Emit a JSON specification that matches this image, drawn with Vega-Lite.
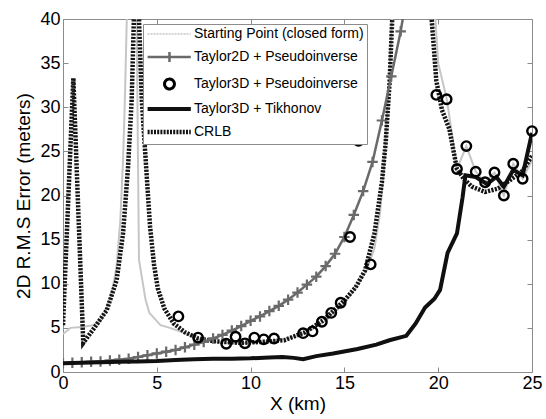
{
  "$schema": "https://vega.github.io/schema/vega-lite/v6.json",
  "width": 469,
  "height": 353,
  "autosize": {"type": "none"},
  "padding": {"left": 63, "top": 19, "right": 14, "bottom": 47},
  "background": "white",
  "config": {
    "font": "Liberation Sans",
    "view": {"stroke": "#8c8c8c", "strokeWidth": 1},
    "axis": {
      "grid": false,
      "domain": false,
      "tickSize": -5,
      "tickColor": "#8c8c8c",
      "labelFlush": false,
      "labelColor": "black",
      "titleColor": "black",
      "labelFontSize": 18,
      "titleFontSize": 19,
      "titleFontWeight": "normal",
      "labelFont": "Liberation Sans",
      "titleFont": "Liberation Sans"
    }
  },
  "datasets": {
    "lines": [
      {"s": "Starting Point (closed form)", "x": 0, "y": 4.3},
      {"s": "Starting Point (closed form)", "x": 0.4, "y": 5.0},
      {"s": "Starting Point (closed form)", "x": 1.0, "y": 5.1},
      {"s": "Starting Point (closed form)", "x": 1.6, "y": 5.3},
      {"s": "Starting Point (closed form)", "x": 2.0, "y": 5.8},
      {"s": "Starting Point (closed form)", "x": 2.3, "y": 7.0},
      {"s": "Starting Point (closed form)", "x": 2.6, "y": 8.9},
      {"s": "Starting Point (closed form)", "x": 2.85, "y": 11.9},
      {"s": "Starting Point (closed form)", "x": 3.05, "y": 17},
      {"s": "Starting Point (closed form)", "x": 3.2, "y": 24},
      {"s": "Starting Point (closed form)", "x": 3.3, "y": 31},
      {"s": "Starting Point (closed form)", "x": 3.4, "y": 40},
      {"s": "Starting Point (closed form)", "x": 3.55, "y": 60},
      {"s": "Starting Point (closed form)", "x": 3.85, "y": 60},
      {"s": "Starting Point (closed form)", "x": 3.97, "y": 30},
      {"s": "Starting Point (closed form)", "x": 4.05, "y": 12.7},
      {"s": "Starting Point (closed form)", "x": 4.4, "y": 8.2},
      {"s": "Starting Point (closed form)", "x": 4.6, "y": 6.7},
      {"s": "Starting Point (closed form)", "x": 5.2, "y": 5.3},
      {"s": "Starting Point (closed form)", "x": 5.7, "y": 5.0},
      {"s": "Starting Point (closed form)", "x": 6.8, "y": 4.2},
      {"s": "Starting Point (closed form)", "x": 7.2, "y": 3.8},
      {"s": "Starting Point (closed form)", "x": 8, "y": 3.4},
      {"s": "Starting Point (closed form)", "x": 9, "y": 3.3},
      {"s": "Starting Point (closed form)", "x": 10, "y": 3.3},
      {"s": "Starting Point (closed form)", "x": 11, "y": 3.5},
      {"s": "Starting Point (closed form)", "x": 12, "y": 3.8},
      {"s": "Starting Point (closed form)", "x": 13, "y": 4.5},
      {"s": "Starting Point (closed form)", "x": 14, "y": 5.8},
      {"s": "Starting Point (closed form)", "x": 15, "y": 7.8},
      {"s": "Starting Point (closed form)", "x": 15.6, "y": 9.5},
      {"s": "Starting Point (closed form)", "x": 16.2, "y": 11.6},
      {"s": "Starting Point (closed form)", "x": 16.6, "y": 14},
      {"s": "Starting Point (closed form)", "x": 16.9, "y": 18},
      {"s": "Starting Point (closed form)", "x": 17.1, "y": 23},
      {"s": "Starting Point (closed form)", "x": 17.3, "y": 30},
      {"s": "Starting Point (closed form)", "x": 17.5, "y": 38},
      {"s": "Starting Point (closed form)", "x": 17.65, "y": 46},
      {"s": "Starting Point (closed form)", "x": 18.5, "y": 120},
      {"s": "Starting Point (closed form)", "x": 19.6, "y": 50},
      {"s": "Starting Point (closed form)", "x": 19.85, "y": 40},
      {"s": "Starting Point (closed form)", "x": 20.0, "y": 35},
      {"s": "Starting Point (closed form)", "x": 20.45, "y": 31},
      {"s": "Starting Point (closed form)", "x": 20.7, "y": 27.5},
      {"s": "Starting Point (closed form)", "x": 21.0, "y": 23},
      {"s": "Starting Point (closed form)", "x": 21.5, "y": 25.6},
      {"s": "Starting Point (closed form)", "x": 22.0, "y": 22.7},
      {"s": "Starting Point (closed form)", "x": 22.5, "y": 21.5},
      {"s": "Starting Point (closed form)", "x": 23.0, "y": 22.6},
      {"s": "Starting Point (closed form)", "x": 23.5, "y": 20.0},
      {"s": "Starting Point (closed form)", "x": 24.0, "y": 23.6},
      {"s": "Starting Point (closed form)", "x": 24.5, "y": 21.9},
      {"s": "Starting Point (closed form)", "x": 25.0, "y": 24.0},

      {"s": "CRLB", "x": 0, "y": 5.3},
      {"s": "CRLB", "x": 0.55, "y": 33.3},
      {"s": "CRLB", "x": 1.08, "y": 3.3},
      {"s": "CRLB", "x": 1.6, "y": 4.8},
      {"s": "CRLB", "x": 2.33, "y": 7.0},
      {"s": "CRLB", "x": 2.86, "y": 10.4},
      {"s": "CRLB", "x": 3.2, "y": 15.7},
      {"s": "CRLB", "x": 3.47, "y": 23.3},
      {"s": "CRLB", "x": 3.66, "y": 30.8},
      {"s": "CRLB", "x": 3.78, "y": 40},
      {"s": "CRLB", "x": 3.85, "y": 55},
      {"s": "CRLB", "x": 3.95, "y": 55},
      {"s": "CRLB", "x": 4.05, "y": 40},
      {"s": "CRLB", "x": 4.2, "y": 30.8},
      {"s": "CRLB", "x": 4.43, "y": 23.3},
      {"s": "CRLB", "x": 4.64, "y": 16.5},
      {"s": "CRLB", "x": 4.85, "y": 12.2},
      {"s": "CRLB", "x": 5.05, "y": 9.5},
      {"s": "CRLB", "x": 5.4, "y": 7.2},
      {"s": "CRLB", "x": 5.9, "y": 5.5},
      {"s": "CRLB", "x": 6.5, "y": 4.5},
      {"s": "CRLB", "x": 7.2, "y": 3.8},
      {"s": "CRLB", "x": 8.0, "y": 3.5},
      {"s": "CRLB", "x": 8.6, "y": 3.4},
      {"s": "CRLB", "x": 9.5, "y": 3.3},
      {"s": "CRLB", "x": 10.5, "y": 3.4},
      {"s": "CRLB", "x": 11.8, "y": 3.6},
      {"s": "CRLB", "x": 12.9, "y": 4.5},
      {"s": "CRLB", "x": 13.9, "y": 5.9},
      {"s": "CRLB", "x": 15.0, "y": 8.1},
      {"s": "CRLB", "x": 15.6, "y": 9.6},
      {"s": "CRLB", "x": 16.1, "y": 11.5},
      {"s": "CRLB", "x": 16.6, "y": 15.7},
      {"s": "CRLB", "x": 17.0, "y": 21.5},
      {"s": "CRLB", "x": 17.2, "y": 26},
      {"s": "CRLB", "x": 17.4, "y": 32.5},
      {"s": "CRLB", "x": 17.55, "y": 40},
      {"s": "CRLB", "x": 18.5, "y": 150},
      {"s": "CRLB", "x": 19.5, "y": 45},
      {"s": "CRLB", "x": 19.65, "y": 40},
      {"s": "CRLB", "x": 19.9, "y": 33},
      {"s": "CRLB", "x": 20.2, "y": 29.7},
      {"s": "CRLB", "x": 20.6, "y": 27.5},
      {"s": "CRLB", "x": 21.0, "y": 23},
      {"s": "CRLB", "x": 21.4, "y": 21.8},
      {"s": "CRLB", "x": 21.8, "y": 21},
      {"s": "CRLB", "x": 22.5, "y": 20.4},
      {"s": "CRLB", "x": 23.2, "y": 20.8},
      {"s": "CRLB", "x": 23.8, "y": 21.7},
      {"s": "CRLB", "x": 24.5, "y": 22.8},
      {"s": "CRLB", "x": 25, "y": 24.5},

      {"s": "Taylor2D + Pseudoinverse", "x": 0, "y": 1.0},
      {"s": "Taylor2D + Pseudoinverse", "x": 0.5, "y": 1.05},
      {"s": "Taylor2D + Pseudoinverse", "x": 1, "y": 1.1},
      {"s": "Taylor2D + Pseudoinverse", "x": 1.5, "y": 1.15},
      {"s": "Taylor2D + Pseudoinverse", "x": 2, "y": 1.2},
      {"s": "Taylor2D + Pseudoinverse", "x": 2.5, "y": 1.3},
      {"s": "Taylor2D + Pseudoinverse", "x": 3, "y": 1.4},
      {"s": "Taylor2D + Pseudoinverse", "x": 3.5, "y": 1.5},
      {"s": "Taylor2D + Pseudoinverse", "x": 4, "y": 1.7},
      {"s": "Taylor2D + Pseudoinverse", "x": 4.5, "y": 1.9},
      {"s": "Taylor2D + Pseudoinverse", "x": 5, "y": 2.1},
      {"s": "Taylor2D + Pseudoinverse", "x": 5.5, "y": 2.3},
      {"s": "Taylor2D + Pseudoinverse", "x": 6, "y": 2.5},
      {"s": "Taylor2D + Pseudoinverse", "x": 6.5, "y": 2.8},
      {"s": "Taylor2D + Pseudoinverse", "x": 7, "y": 3.1},
      {"s": "Taylor2D + Pseudoinverse", "x": 7.5, "y": 3.4},
      {"s": "Taylor2D + Pseudoinverse", "x": 8, "y": 3.8},
      {"s": "Taylor2D + Pseudoinverse", "x": 8.5, "y": 4.2},
      {"s": "Taylor2D + Pseudoinverse", "x": 9, "y": 4.7},
      {"s": "Taylor2D + Pseudoinverse", "x": 9.5, "y": 5.2},
      {"s": "Taylor2D + Pseudoinverse", "x": 10, "y": 5.8},
      {"s": "Taylor2D + Pseudoinverse", "x": 10.5, "y": 6.3},
      {"s": "Taylor2D + Pseudoinverse", "x": 11, "y": 6.9},
      {"s": "Taylor2D + Pseudoinverse", "x": 11.5, "y": 7.5},
      {"s": "Taylor2D + Pseudoinverse", "x": 12, "y": 8.2},
      {"s": "Taylor2D + Pseudoinverse", "x": 12.5, "y": 9.0},
      {"s": "Taylor2D + Pseudoinverse", "x": 13, "y": 9.9},
      {"s": "Taylor2D + Pseudoinverse", "x": 13.5, "y": 10.8},
      {"s": "Taylor2D + Pseudoinverse", "x": 14, "y": 12.0},
      {"s": "Taylor2D + Pseudoinverse", "x": 14.5, "y": 13.4},
      {"s": "Taylor2D + Pseudoinverse", "x": 15, "y": 15.3},
      {"s": "Taylor2D + Pseudoinverse", "x": 15.5, "y": 17.8},
      {"s": "Taylor2D + Pseudoinverse", "x": 16, "y": 20.5},
      {"s": "Taylor2D + Pseudoinverse", "x": 16.5, "y": 23.8},
      {"s": "Taylor2D + Pseudoinverse", "x": 17, "y": 28.5},
      {"s": "Taylor2D + Pseudoinverse", "x": 17.5, "y": 33.5},
      {"s": "Taylor2D + Pseudoinverse", "x": 18, "y": 38.6},
      {"s": "Taylor2D + Pseudoinverse", "x": 18.5, "y": 45},

      {"s": "Taylor3D + Tikhonov", "x": 0, "y": 1.0},
      {"s": "Taylor3D + Tikhonov", "x": 1, "y": 1.05},
      {"s": "Taylor3D + Tikhonov", "x": 2, "y": 1.1},
      {"s": "Taylor3D + Tikhonov", "x": 3, "y": 1.15},
      {"s": "Taylor3D + Tikhonov", "x": 4, "y": 1.2},
      {"s": "Taylor3D + Tikhonov", "x": 5, "y": 1.25},
      {"s": "Taylor3D + Tikhonov", "x": 6, "y": 1.35},
      {"s": "Taylor3D + Tikhonov", "x": 7, "y": 1.45},
      {"s": "Taylor3D + Tikhonov", "x": 8, "y": 1.5},
      {"s": "Taylor3D + Tikhonov", "x": 9, "y": 1.5},
      {"s": "Taylor3D + Tikhonov", "x": 10, "y": 1.55},
      {"s": "Taylor3D + Tikhonov", "x": 11, "y": 1.65},
      {"s": "Taylor3D + Tikhonov", "x": 11.7, "y": 1.7},
      {"s": "Taylor3D + Tikhonov", "x": 12.3, "y": 1.6},
      {"s": "Taylor3D + Tikhonov", "x": 12.8, "y": 1.45},
      {"s": "Taylor3D + Tikhonov", "x": 13.5, "y": 1.8},
      {"s": "Taylor3D + Tikhonov", "x": 14.4, "y": 2.1},
      {"s": "Taylor3D + Tikhonov", "x": 15.7, "y": 2.6},
      {"s": "Taylor3D + Tikhonov", "x": 16.7, "y": 3.1},
      {"s": "Taylor3D + Tikhonov", "x": 17.4, "y": 3.6},
      {"s": "Taylor3D + Tikhonov", "x": 18.3, "y": 4.1},
      {"s": "Taylor3D + Tikhonov", "x": 18.8, "y": 5.5},
      {"s": "Taylor3D + Tikhonov", "x": 19.3, "y": 7.3},
      {"s": "Taylor3D + Tikhonov", "x": 19.8, "y": 8.3},
      {"s": "Taylor3D + Tikhonov", "x": 20.1, "y": 9.3},
      {"s": "Taylor3D + Tikhonov", "x": 20.5, "y": 13.5},
      {"s": "Taylor3D + Tikhonov", "x": 21.0, "y": 15.7},
      {"s": "Taylor3D + Tikhonov", "x": 21.3, "y": 19.8},
      {"s": "Taylor3D + Tikhonov", "x": 21.45, "y": 22.3},
      {"s": "Taylor3D + Tikhonov", "x": 22.0, "y": 22.1},
      {"s": "Taylor3D + Tikhonov", "x": 22.6, "y": 21.3},
      {"s": "Taylor3D + Tikhonov", "x": 23.1, "y": 22.1},
      {"s": "Taylor3D + Tikhonov", "x": 23.5, "y": 21.0},
      {"s": "Taylor3D + Tikhonov", "x": 24.0, "y": 22.9},
      {"s": "Taylor3D + Tikhonov", "x": 24.5, "y": 22.3},
      {"s": "Taylor3D + Tikhonov", "x": 25.0, "y": 27.1}
    ],
    "circles": [
      {"x": 6.15, "y": 6.3}, {"x": 7.2, "y": 3.9}, {"x": 8.7, "y": 3.2},
      {"x": 9.2, "y": 4.0}, {"x": 9.7, "y": 3.25}, {"x": 10.2, "y": 3.9},
      {"x": 10.7, "y": 3.7}, {"x": 11.25, "y": 3.8}, {"x": 12.8, "y": 4.4},
      {"x": 13.3, "y": 4.6}, {"x": 13.8, "y": 5.7}, {"x": 14.3, "y": 6.7},
      {"x": 14.8, "y": 7.85}, {"x": 15.3, "y": 15.3}, {"x": 15.75, "y": 26.2},
      {"x": 16.4, "y": 12.2}, {"x": 19.9, "y": 31.4}, {"x": 20.45, "y": 30.9},
      {"x": 21.0, "y": 23.0}, {"x": 21.5, "y": 25.6}, {"x": 22.0, "y": 22.7},
      {"x": 22.5, "y": 21.5}, {"x": 23.0, "y": 22.6}, {"x": 23.5, "y": 20.0},
      {"x": 24.0, "y": 23.6}, {"x": 24.5, "y": 21.9}, {"x": 25.0, "y": 27.3}
    ]
  },
  "resolve": {"axis": {"x": "independent", "y": "independent"}},
  "layer": [
    {
      "data": {"name": "lines"},
      "transform": [{"filter": "datum.s === 'Starting Point (closed form)'"}],
      "mark": {"type": "line", "clip": true, "strokeWidth": 2},
      "encoding": {
        "x": {"field": "x", "type": "quantitative", "scale": {"domain": [0, 25], "nice": false},
              "axis": {"orient": "bottom", "values": [0, 5, 10, 15, 20, 25], "title": "X (km)", "labelPadding": 7, "titlePadding": 2}},
        "y": {"field": "y", "type": "quantitative", "scale": {"domain": [0, 40], "nice": false},
              "axis": {"orient": "left", "values": [0, 5, 10, 15, 20, 25, 30, 35, 40], "title": "2D R.M.S Error (meters)", "labelPadding": 8, "titlePadding": 6}},
        "color": {
          "field": "s", "type": "nominal",
          "scale": {
            "domain": ["Starting Point (closed form)", "Taylor2D + Pseudoinverse", "Taylor3D + Pseudoinverse", "Taylor3D + Tikhonov", "CRLB"],
            "range": ["#c6c6c6", "#6a6a6a", "#000000", "#101010", "#141414"]
          },
          "legend": {
            "title": null,
            "orient": "none",
            "legendX": 80,
            "legendY": 5,
            "padding": 3,
            "strokeColor": "#8c8c8c",
            "fillColor": "white",
            "symbolSize": 324,
            "symbolFillColor": "transparent",
            "symbolOpacity": 1,
            "symbolStrokeWidth": 3,
            "rowPadding": 6,
            "labelOffset": 34,
            "labelFontSize": 14,
            "labelFont": "Liberation Sans",
            "labelColor": "black",
            "labelLimit": 400,
            "encode": {
              "symbols": {
                "update": {
                  "shape": {"signal": "datum.value === 'Taylor3D + Pseudoinverse' ? 'M2.38,0A0.55,0.55 0 1,1 1.28,0A0.55,0.55 0 1,1 2.38,0' : datum.value === 'Taylor2D + Pseudoinverse' ? 'M-0.6,0H4.2M1.83,-0.55V0.55' : 'M-0.6,0H4.2'"},
                  "strokeDash": {"signal": "datum.value === 'CRLB' ? [2, 1.2] : datum.value === 'Starting Point (closed form)' ? [2, 1] : [1, 0]"},
                  "strokeWidth": {"signal": "datum.value === 'CRLB' ? 4.5 : datum.value === 'Taylor3D + Tikhonov' ? 4 : datum.value === 'Taylor3D + Pseudoinverse' ? 3 : datum.value === 'Taylor2D + Pseudoinverse' ? 2.5 : 1.5"},
                  "fill": {"value": "transparent"},
                  "opacity": {"value": 1}
                }
              }
            }
          }
        }
      }
    },
    {
      "data": {"name": "lines"},
      "transform": [{"filter": "datum.s === 'CRLB'"}],
      "mark": {"type": "line", "clip": true, "stroke": "#141414", "strokeWidth": 4.5, "strokeDash": [2.2, 1.3]},
      "encoding": {
        "x": {"field": "x", "type": "quantitative", "axis": null},
        "y": {"field": "y", "type": "quantitative", "axis": null}
      }
    },
    {
      "data": {"name": "lines"},
      "transform": [{"filter": "datum.s === 'Taylor2D + Pseudoinverse'"}],
      "mark": {"type": "line", "clip": true, "stroke": "#6a6a6a", "strokeWidth": 2.5},
      "encoding": {
        "x": {"field": "x", "type": "quantitative", "axis": null},
        "y": {"field": "y", "type": "quantitative", "axis": null}
      }
    },
    {
      "data": {"name": "lines"},
      "transform": [{"filter": "datum.s === 'Taylor2D + Pseudoinverse'"}],
      "mark": {"type": "point", "shape": "M-1,0H1M0,-1V1", "filled": false, "stroke": "#6a6a6a", "strokeWidth": 2.2, "size": 110, "opacity": 1, "clip": true},
      "encoding": {
        "x": {"field": "x", "type": "quantitative", "axis": null},
        "y": {"field": "y", "type": "quantitative", "axis": null}
      }
    },
    {
      "data": {"name": "lines"},
      "transform": [{"filter": "datum.s === 'Taylor3D + Tikhonov'"}],
      "mark": {"type": "line", "clip": true, "stroke": "#101010", "strokeWidth": 4},
      "encoding": {
        "x": {"field": "x", "type": "quantitative", "axis": null},
        "y": {"field": "y", "type": "quantitative", "axis": null}
      }
    },
    {
      "data": {"name": "circles"},
      "mark": {"type": "point", "shape": "circle", "filled": false, "stroke": "black", "strokeWidth": 2.4, "size": 90, "opacity": 1},
      "encoding": {
        "x": {"field": "x", "type": "quantitative",
              "axis": {"orient": "top", "labels": false, "title": null, "values": [0, 5, 10, 15, 20, 25]}},
        "y": {"field": "y", "type": "quantitative",
              "axis": {"orient": "right", "labels": false, "title": null, "values": [0, 5, 10, 15, 20, 25, 30, 35, 40]}}
      }
    }
  ]
}
